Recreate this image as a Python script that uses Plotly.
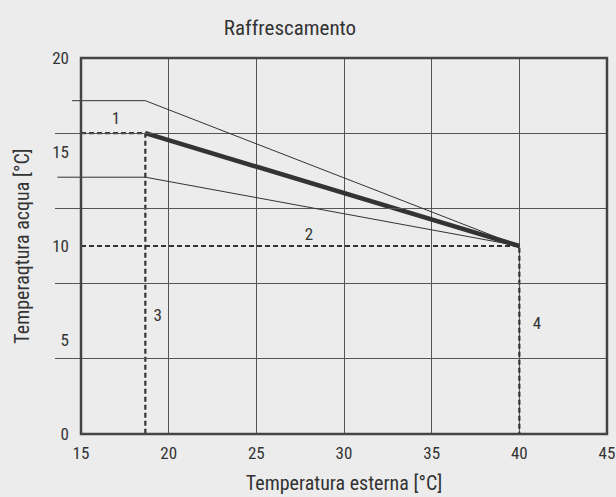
import plotly.graph_objects as go

# ── Data ──────────────────────────────────────────────────────────────────────
# operating point: outdoor 18.67 °C -> water 16 °C, outdoor 40 °C -> water 10 °C
main_x = [18.67, 40]
main_y = [16, 10]

# upper / lower limit curves (start a little left of the 15 °C border)
upper_x = [14.49, 18.67, 40]
upper_y = [17.73, 17.73, 10]
lower_x = [13.65, 18.67, 40]
lower_y = [13.66, 13.66, 10]

# dashed reference lines
ref1_x = [15, 18.67, 18.67]
ref1_y = [16, 16, 0]
ref2_x = [15, 40, 40]
ref2_y = [10, 10, 0]

label_text = ["1", "2", "3", "4"]
label_x = [17.0, 28.0, 19.37, 41.0]
label_y = [16.7, 10.55, 6.26, 5.81]

# ── Style ─────────────────────────────────────────────────────────────────────
BG = "#ececec"
INK = "#333333"
GRID = "#555555"
FONT = "Liberation Sans Narrow, Roboto Condensed, DejaVu Sans Condensed, Roboto, sans-serif"

W, H = 616, 497
ML, MR, MT, MB = 55, 9, 58, 63
PLOT_LEFT = 81                      # pixel position of the 15 °C border
X_MIN, X_MAX = 15, 45
dom0 = (PLOT_LEFT - ML) / (W - ML - MR)
px_per_unit = (W - MR - PLOT_LEFT) / (X_MAX - X_MIN)
x2_min = X_MIN - (PLOT_LEFT - ML) / px_per_unit

fig = go.Figure()

# thin limit lines live on a hidden, wider x axis so they can poke past the border
for xs, ys in [(upper_x, upper_y), (lower_x, lower_y)]:
    fig.add_trace(go.Scatter(
        x=xs, y=ys, xaxis="x2", yaxis="y", mode="lines",
        line=dict(color=INK, width=1), hoverinfo="skip",
    ))

for xs, ys in [(ref1_x, ref1_y), (ref2_x, ref2_y)]:
    fig.add_trace(go.Scatter(
        x=xs, y=ys, mode="lines",
        line=dict(color=INK, width=2.2, dash="5px,3px"), hoverinfo="skip",
    ))

fig.add_trace(go.Scatter(
    x=main_x, y=main_y, mode="lines",
    line=dict(color=INK, width=4.5), hoverinfo="skip",
))

fig.add_trace(go.Scatter(
    x=label_x, y=label_y, mode="text", text=label_text,
    textfont=dict(family=FONT, size=17, color=INK), cliponaxis=False,
    hoverinfo="skip",
))

fig.add_shape(type="rect", xref="x domain", yref="y domain", x0=0, x1=1, y0=0, y1=1,
              line=dict(color="#444444", width=2.5), layer="above")

fig.update_layout(
    width=W, height=H,
    paper_bgcolor=BG, plot_bgcolor="rgba(0,0,0,0)",
    margin=dict(l=ML, r=MR, t=MT, b=MB, autoexpand=False),
    showlegend=False,
    font=dict(family=FONT, color=INK, size=16),
    title=dict(text="Raffrescamento", x=290 / W, xanchor="center", xref="container",
               y=1 - 28 / H, yanchor="middle", yref="container",
               font=dict(family=FONT, size=21, color=INK)),
    xaxis=dict(
        domain=[dom0, 1], range=[X_MIN, X_MAX], dtick=5, tick0=0,
        showgrid=True, gridcolor=GRID, gridwidth=1, zeroline=False,
        showline=False, ticks="", ticklabelstandoff=7, automargin=False,
        tickfont=dict(family=FONT, size=17, color=INK),
        title=dict(text="Temperatura esterna [°C]", standoff=13,
                   font=dict(family=FONT, size=20, color=INK)),
        anchor="y",
    ),
    xaxis2=dict(domain=[0, 1], range=[x2_min, X_MAX], visible=False, anchor="y",
                showgrid=False, automargin=False),
    yaxis=dict(
        range=[0, 20], dtick=5, tick0=0, anchor="free", position=dom0,
        showgrid=False, zeroline=False, showline=False, ticks="",
        ticklabelstandoff=12, automargin=False,
        minor=dict(dtick=4, tick0=0, showgrid=True, gridcolor=GRID, gridwidth=1, ticks=""),
        tickfont=dict(family=FONT, size=17, color=INK),
        title=dict(text="Temperaqtura acqua [°C]", standoff=16,
                   font=dict(family=FONT, size=20, color=INK)),
    ),
)

# the page body has an 8px default margin; drop it so the figure sits at 0,0
fig.write_html("out.html", config={"displayModeBar": False},
               post_script="document.body.style.margin='0';")
